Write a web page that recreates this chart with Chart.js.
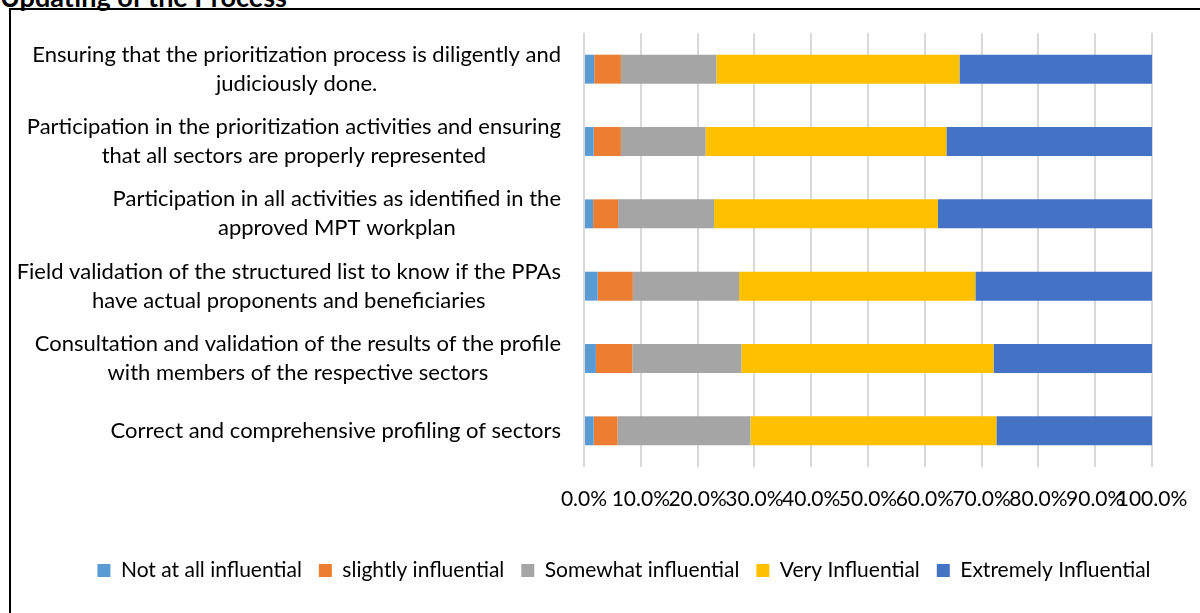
<!DOCTYPE html>
<html>
<head>
<meta charset="utf-8">
<script src="https://cdn.jsdelivr.net/npm/chart.js@4"></script>
<style>
  html, body { margin: 0; padding: 0; background: #fff; overflow: hidden; width: 1200px; height: 613px; }
  #frame { position: absolute; left: 9px; top: 8px; width: 1300px; height: 700px; border: 2px solid #000; }
  #cut { position: absolute; left: 0; top: -20px; font: bold 27px Lato, sans-serif; color: #000; white-space: nowrap; }
  #myChart { position: absolute; left: 0; top: 0; }
</style>
</head>
<body>
<div id="cut">Updating of the Process</div>
<div id="frame"></div>
<canvas id="myChart" width="1248" height="613"></canvas>
<script>
var categories = [
    ['Ensuring that the prioritization process is diligently and', 'judiciously done.'],
    ['Participation in the prioritization activities and ensuring', 'that all sectors are properly represented'],
    ['Participation in all activities as identified in the', 'approved MPT workplan'],
    ['Field validation of the structured list to know if the PPAs', 'have actual proponents and beneficiaries'],
    ['Consultation and validation of the results of the profile', 'with members of the respective sectors'],
    ['Correct and comprehensive profiling of sectors']
];
var notAtAll = [1.8, 1.7, 1.6, 2.4, 2.1, 1.7];
var slightly = [4.7, 4.8, 4.4, 6.2, 6.4, 4.2];
var somewhat = [16.8, 14.9, 16.9, 18.7, 19.2, 23.4];
var veryInfl = [42.8, 42.4, 39.4, 41.6, 44.4, 43.3];
var extremely = [33.9, 36.2, 37.7, 31.1, 27.9, 27.4];
var xTickLabels = ['0.0%', '10.0%', '20.0%', '30.0%', '40.0%', '50.0%', '60.0%', '70.0%', '80.0%', '90.0%', '100.0%'];

var fontFamily = 'Lato, "Open Sans", sans-serif';

// wrapped category labels: block right-aligned, lines centred inside the block
var categoryLabels = {
    id: 'categoryLabels',
    afterDraw: function(chart) {
        var ctx = chart.ctx;
        var scale = chart.scales.y;
        var right = chart.chartArea.left - 23;
        var lineH = 29;
        ctx.save();
        ctx.font = '22px ' + fontFamily;
        ctx.fillStyle = '#000';
        ctx.textAlign = 'center';
        ctx.textBaseline = 'middle';
        categories.forEach(function(lines, i) {
            var w = 0;
            lines.forEach(function(l) { w = Math.max(w, ctx.measureText(l).width); });
            var cx = right - w / 2;
            var y = scale.getPixelForTick(i);
            lines.forEach(function(l, j) {
                ctx.fillText(l, cx, y + (j - (lines.length - 1) / 2) * lineH);
            });
        });
        ctx.restore();
    }
};

var ctx = document.getElementById('myChart').getContext('2d');
var myChart = new Chart(ctx, {
    type: 'bar',
    data: {
        labels: categories,
        datasets: [
            { label: 'Not at all influential', data: notAtAll, backgroundColor: '#5B9BD5' },
            { label: 'slightly influential', data: slightly, backgroundColor: '#ED7D31' },
            { label: 'Somewhat influential', data: somewhat, backgroundColor: '#A5A5A5' },
            { label: 'Very Influential', data: veryInfl, backgroundColor: '#FFC000' },
            { label: 'Extremely Influential', data: extremely, backgroundColor: '#4472C4' }
        ]
    },
    options: {
        responsive: false,
        animation: false,
        indexAxis: 'y',
        layout: { padding: { top: 33, bottom: 22, left: 0, right: 0 } },
        datasets: { bar: { categoryPercentage: 1, barPercentage: 0.4, borderWidth: 0 } },
        scales: {
            x: {
                stacked: true,
                min: 0,
                max: 100,
                grid: { color: '#d9d9d9', lineWidth: 2, drawTicks: false },
                border: { display: false },
                ticks: {
                    stepSize: 10,
                    autoSkip: false,
                    maxRotation: 0,
                    minRotation: 0,
                    padding: 20,
                    color: '#000',
                    font: { family: fontFamily, size: 21 },
                    callback: function(value, index) { return xTickLabels[index]; }
                },
                afterFit: function(s) { s.height = 76; }
            },
            y: {
                stacked: true,
                grid: { display: false },
                border: { display: false },
                ticks: { display: false },
                afterFit: function(s) { s.width = 584; }
            },
            yRight: {
                type: 'linear',
                position: 'right',
                grid: { display: false },
                border: { display: false },
                ticks: { display: false },
                afterFit: function(s) { s.width = 96; }
            }
        },
        plugins: {
            legend: {
                position: 'bottom',
                labels: {
                    boxWidth: 13,
                    boxHeight: 13,
                    padding: 17,
                    color: '#000',
                    font: { family: fontFamily, size: 21 }
                }
            },
            tooltip: { enabled: false }
        }
    },
    plugins: [categoryLabels]
});
</script>
</body>
</html>
